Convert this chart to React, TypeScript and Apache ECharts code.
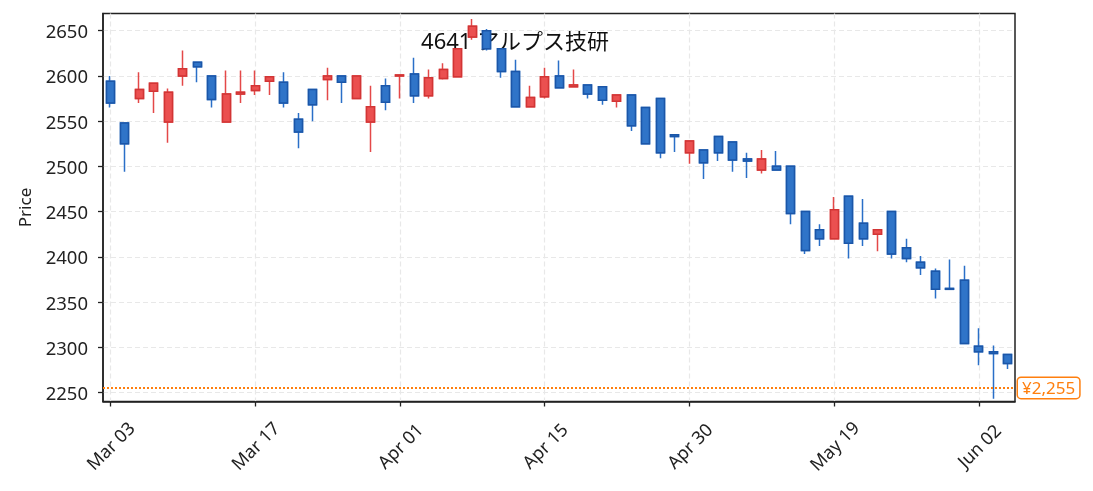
import React, { useEffect, useRef } from "react";
import * as echarts from "echarts";

const dates = [
  "Mar 03", "Mar 04", "Mar 05", "Mar 06", "Mar 07", "Mar 10", "Mar 11", "Mar 12", "Mar 13", "Mar 14",
  "Mar 17", "Mar 18", "Mar 19", "Mar 21", "Mar 24", "Mar 25", "Mar 26", "Mar 27", "Mar 28", "Mar 31",
  "Apr 01", "Apr 02", "Apr 03", "Apr 04", "Apr 07", "Apr 08", "Apr 09", "Apr 10", "Apr 11", "Apr 14",
  "Apr 15", "Apr 16", "Apr 17", "Apr 18", "Apr 21", "Apr 22", "Apr 23", "Apr 24", "Apr 25", "Apr 28",
  "Apr 30", "May 01", "May 07", "May 08", "May 09", "May 12", "May 13", "May 14", "May 15", "May 16",
  "May 19", "May 20", "May 21", "May 22", "May 23", "May 26", "May 27", "May 28", "May 29", "May 30",
  "Jun 02", "Jun 03", "Jun 04",
];

const opens = [
  2594, 2548, 2575, 2583, 2549, 2600, 2615, 2600, 2549, 2580,
  2584, 2594, 2593, 2552, 2585, 2596, 2600, 2575, 2549, 2589,
  2600, 2602, 2578, 2597, 2599, 2643, 2650, 2630, 2605, 2566,
  2577, 2600, 2588, 2590, 2588, 2572, 2579, 2565, 2575, 2535,
  2515, 2518, 2533, 2527, 2508, 2496, 2500, 2500, 2450, 2430,
  2420, 2467, 2437, 2425, 2450, 2410, 2394, 2384, 2365, 2374,
  2301, 2295, 2292,
];

const closes = [
  2570, 2525, 2585, 2592, 2582, 2608, 2610, 2574, 2580, 2582,
  2589, 2599, 2570, 2538, 2568, 2600, 2593, 2600, 2566, 2571,
  2601, 2578, 2598, 2607, 2630, 2655, 2630, 2605, 2566, 2576,
  2599, 2587, 2590, 2580, 2573, 2579, 2545, 2525, 2515, 2533,
  2528, 2504, 2515, 2507, 2506, 2508, 2496, 2448, 2407, 2420,
  2452, 2415, 2420, 2430, 2403, 2398, 2388, 2364, 2364, 2304,
  2295, 2293, 2282,
];

const lows = [
  2565, 2494, 2570, 2559, 2526, 2589, 2593, 2565, 2549, 2570,
  2579, 2579, 2565, 2520, 2550, 2573, 2570, 2575, 2516, 2562,
  2575, 2570, 2575, 2596, 2599, 2640, 2628, 2598, 2566, 2566,
  2575, 2587, 2588, 2575, 2568, 2565, 2539, 2525, 2509, 2516,
  2503, 2486, 2506, 2494, 2487, 2492, 2496, 2436, 2403, 2412,
  2420, 2398, 2412, 2406, 2398, 2394, 2380, 2354, 2364, 2304,
  2280, 2243, 2276,
];

const highs = [
  2600, 2548, 2604, 2592, 2586, 2628, 2615, 2600, 2606, 2606,
  2606, 2599, 2604, 2559, 2585, 2609, 2600, 2600, 2589, 2597,
  2601, 2620, 2607, 2614, 2630, 2663, 2652, 2630, 2618, 2589,
  2609, 2617, 2607, 2590, 2588, 2579, 2579, 2565, 2575, 2535,
  2528, 2518, 2533, 2527, 2515, 2518, 2517, 2500, 2450, 2436,
  2466, 2467, 2464, 2430, 2450, 2420, 2401, 2387, 2397, 2390,
  2321, 2302, 2292,
];

const yTicks = [2250, 2300, 2350, 2400, 2450, 2500, 2550, 2600, 2650];
const refPrice = 2255;
const refLabel = "¥2,255";
const titleText = "4641 アルプス技研";

const FONT = "'Noto Sans', 'Noto Sans CJK JP', sans-serif";

export default function App() {
  const ref = useRef<HTMLDivElement>(null);

  useEffect(() => {
    if (!ref.current) return;
    const chart = echarts.init(ref.current, undefined, { renderer: "svg" });

    const fullData = dates.map((_, i) => [opens[i], closes[i], lows[i], highs[i]]);
    const bodyData = dates.map((_, i) => [
      opens[i],
      closes[i],
      Math.min(opens[i], closes[i]),
      Math.max(opens[i], closes[i]),
    ]);

    const option: any = {
      animation: false,
      textStyle: { fontFamily: FONT },
      grid: {
        left: 103,
        right: 78,
        top: 13.5,
        bottom: 89.5,
        show: true,
        borderColor: "#222",
        borderWidth: 1.5,
        backgroundColor: "transparent",
      },
      graphic: [
        {
          type: "text",
          x: 515,
          y: 40,
          z: -10,
          style: {
            text: titleText,
            fill: "#111",
            font: `22px ${FONT}`,
            textAlign: "center",
            textVerticalAlign: "middle",
          },
        },
      ],
      xAxis: {
        type: "category",
        data: dates,
        boundaryGap: true,
        axisLine: { show: true, lineStyle: { color: "#222", width: 1.5 } },
        axisTick: {
          show: true,
          alignWithLabel: true,
          interval: 9,
          length: 5,
          lineStyle: { color: "#222", width: 1.3 },
        },
        axisLabel: {
          interval: 9,
          rotate: 45,
          align: "center",
          verticalAlign: "middle",
          margin: 44,
          color: "#222",
          fontSize: 18,
          fontFamily: FONT,
        },
        splitLine: {
          show: true,
          interval: 9,
          alignWithLabel: true,
          lineStyle: { color: "#e8e8e8", width: 1.2, type: [5, 3] },
        },
      },
      yAxis: {
        type: "value",
        min: 2240,
        max: 2669,
        name: "Price",
        nameLocation: "middle",
        nameGap: 70,
        nameTextStyle: { color: "#222", fontSize: 17, fontFamily: FONT },
        axisLine: { show: true, lineStyle: { color: "#222", width: 1.5 } },
        axisTick: {
          show: true,
          length: 5,
          customValues: yTicks,
          lineStyle: { color: "#222", width: 1.3 },
        },
        axisLabel: {
          customValues: yTicks,
          formatter: (v: number) => String(v),
          margin: 15,
          color: "#222",
          fontSize: 18.5,
          fontFamily: FONT,
        },
        splitLine: {
          show: true,
          lineStyle: { color: "#e8e8e8", width: 1.2, type: [5, 3] },
        },
      },
      series: [
        {
          name: "wick",
          type: "candlestick",
          data: fullData,
          barWidth: 8.5,
          itemStyle: {
            color: "#eb5050",
            color0: "#2f74c8",
            borderColor: "#e44848",
            borderColor0: "#2a6fc8",
            borderWidth: 1.5,
          },
          z: 2,
        },
        {
          name: "body",
          type: "candlestick",
          data: bodyData,
          barWidth: 8.5,
          itemStyle: {
            color: "#eb5050",
            color0: "#2f74c8",
            borderColor: "#d23535",
            borderColor0: "#1b56a8",
            borderWidth: 1.5,
          },
          z: 3,
          markLine: {
            symbol: "none",
            silent: true,
            animation: false,
            lineStyle: { color: "#ff7f0e", type: "dotted", width: 2 },
            label: {
              show: true,
              position: "end",
              formatter: refLabel,
              color: "#ff7f0e",
              backgroundColor: "#fff",
              borderColor: "#ff7f0e",
              borderWidth: 1.5,
              borderRadius: 3,
              padding: [2, 4, 1, 4],
              fontSize: 17,
              fontFamily: FONT,
              distance: 3,
            },
            data: [{ yAxis: refPrice }],
          },
        },
      ],
    };

    chart.setOption(option);
    return () => chart.dispose();
  }, []);

  return (
    <div
      ref={ref}
      style={{ position: "fixed", left: 0, top: 0, width: 1093, height: 491 }}
    />
  );
}
